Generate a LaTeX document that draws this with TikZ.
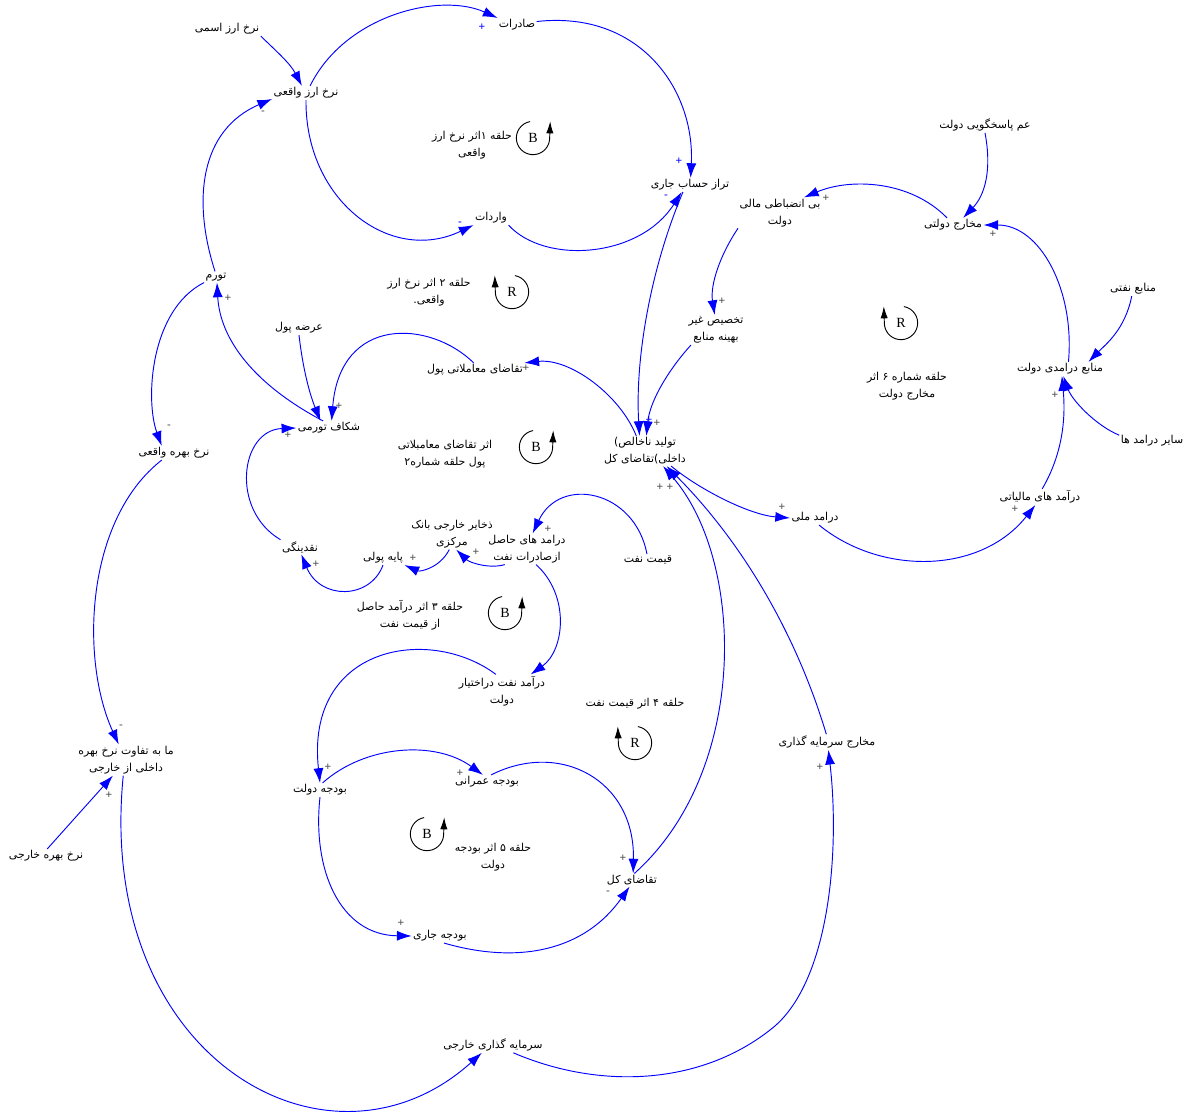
\documentclass[tikz,border=0pt]{standalone}
\usepackage{fontspec}
\usetikzlibrary{arrows.meta,calc}
\newfontfamily\fa[Script=Arabic]{DejaVu Sans}
\newfontfamily\lsans{Liberation Sans}
\newfontfamily\lserif{Liberation Serif}
\TeXXeTstate=1
\newcommand\rtxt[1]{\beginR #1\endR}
\begin{document}
\begin{tikzpicture}[x=0.75pt,y=-0.75pt,
  lbl/.style={font=\fa\fontsize{8.2}{12.75}\selectfont, align=center, inner sep=1pt},
  cl/.style={draw=blue, line width=0.7pt, -{Latex[length=11pt,width=7.5pt]}},
  sg/.style={font=\lsans\fontsize{8.5}{9}\selectfont, inner sep=0},
  lp/.style={font=\lserif\fontsize{10.5}{12}\selectfont, inner sep=0},
  lc/.style={draw=black, line width=0.7pt},
  la/.style={draw=black, line width=0.7pt, -{Latex[length=9pt,width=5.5pt]}}]
\useasboundingbox[fill=white] (0,0) rectangle (1190,1113);

% variables
\node[lbl] (nomFX) at (227,29) {\rtxt{نرخ ارز اسمی}};
\node[lbl] (realFX) at (306,93) {\rtxt{نرخ ارز واقعی}};
\node[lbl] (exports) at (517,25) {\rtxt{صادرات}};
\node[lbl] (imports) at (491,218) {\rtxt{واردات}};
\node[lbl] (CA) at (690,185) {\rtxt{تراز حساب جاری}};
\node[lbl] (infl) at (216,277) {\rtxt{تورم}};
\node[lbl] (msup) at (299,328) {\rtxt{عرضه پول}};
\node[lbl] (tdem) at (475,370) {\rtxt{تقاضای معاملاتی پول}};
\node[lbl] (gap) at (329,428) {\rtxt{شکاف تورمی}};
\node[lbl] (rrate) at (174,453) {\rtxt{نرخ بهره واقعی}};
\node[lbl] (gdp) at (645,451) {\rtxt{تولید ناخالص)}\\\rtxt{داخلی)تقاضای کل}};
\node[lbl] (liq) at (300,547) {\rtxt{نقدینگی}};
\node[lbl] (base) at (383,558) {\rtxt{پایه پولی}};
\node[lbl] (res) at (452,534) {\rtxt{ذخایر خارجی بانک}\\\rtxt{مرکزی}};
\node[lbl] (oilexp) at (527,549) {\rtxt{درامد های حاصل}\\\rtxt{ازصادرات نفت}};
\node[lbl] (oilp) at (648,560) {\rtxt{قیمت نفت}};
\node[lbl] (natinc) at (815,518) {\rtxt{درامد ملی}};
\node[lbl] (tax) at (1040,497) {\rtxt{درآمد های مالیاتی}};
\node[lbl] (grev) at (1060,369) {\rtxt{منابع درامدی دولت}};
\node[lbl] (oilres) at (1133,289) {\rtxt{منابع نفتی}};
\node[lbl] (other) at (1152,441) {\rtxt{سایر درامد ها}};
\node[lbl] (gspend) at (953,225) {\rtxt{مخارج دولتی}};
\node[lbl] (acc) at (985,125) {\rtxt{عم پاسخگویی دولت}};
\node[lbl] (fisc) at (780,213) {\rtxt{بی انضباطی مالی}\\\rtxt{دولت}};
\node[lbl] (misal) at (716,330) {\rtxt{تخصیص غیر}\\\rtxt{بهینه منابع}};
\node[lbl] (oilgov) at (502,691) {\rtxt{درآمد نفت دراختیار}\\\rtxt{دولت}};
\node[lbl] (gbud) at (320,790) {\rtxt{بودجه دولت}};
\node[lbl] (dev) at (487,782) {\rtxt{بودجه عمرانی}};
\node[lbl] (ad) at (632,880) {\rtxt{تقاضای کل}};
\node[lbl] (cur) at (440,936) {\rtxt{بودجه جاری}};
\node[lbl] (inv) at (827,742) {\rtxt{مخارج سرمایه گذاری}};
\node[lbl] (fdi) at (493,1045) {\rtxt{سرمایه گذاری خارجی}};
\node[lbl] (idiff) at (126,760) {\rtxt{ما به تفاوت نرخ بهره}\\\rtxt{داخلی از خارجی}};
\node[lbl] (frate) at (46,856) {\rtxt{نرخ بهره خارجی}};

% loop labels
\node[lbl] (t1) at (472,145) {\rtxt{حلقه ۱اثر نرخ ارز}\\\rtxt{واقعی}};
\node[lbl] (t2) at (429,292) {\rtxt{حلقه ۲ اثر نرخ ارز}\\\rtxt{واقعی.}};
\node[lbl] (t3) at (445,454) {\rtxt{اثر تقاضای معامبلاتی}\\\rtxt{پول حلقه شماره۲}};
\node[lbl] (t4) at (410,615) {\rtxt{حلقه ۳ اثر درآمد حاصل}\\\rtxt{از  قیمت نفت}};
\node[lbl] (t5) at (635,704) {\rtxt{حلقه ۴ اثر قیمت نفت}};
\node[lbl] (t6) at (493,857) {\rtxt{حلقه ۵ اثر بودجه}\\\rtxt{دولت}};
\node[lbl] (t7) at (907,386) {\rtxt{حلقه شماره ۶ اثر}\\\rtxt{مخارج دولت}};

% loop symbols
\node[lp] (b1) at (533,138) {B};
\node[lp] (r2) at (512,292) {R};
\node[lp] (b3) at (536,447) {B};
\node[lp] (b4) at (505,613) {B};
\node[lp] (r5) at (635,743) {R};
\node[lp] (b6) at (427,834) {B};
\node[lp] (r7) at (901,323) {R};
\foreach \n in {b1,b3,b4,b6}{
  \draw[lc] ($(\n)+(100:12.5pt)$) arc[start angle=100,end angle=360,radius=12.5pt];
  \draw[la] ($(\n)+(0:12.5pt)$) -- ++(0.4pt,12.5pt);}
\foreach \n in {r2,r5,r7}{
  \draw[lc] ($(\n)+(80:12.5pt)$) arc[start angle=80,end angle=-180,radius=12.5pt];
  \draw[la] ($(\n)+(180:12.5pt)$) -- ++(-0.4pt,12.5pt);}

% connectors
\draw[cl] (nomFX.south east) .. controls (275,50) and (290,63) .. (realFX.120);
\draw[cl] (realFX.60) .. controls (345,15) and (440,-8) .. (exports.160);
\draw[cl] (realFX.south) .. controls (305,200) and (390,265) .. (imports.south west);
\draw[cl] (exports.10) .. controls (640,10) and (695,90) .. (CA.85);
\draw[cl] (imports.south east) .. controls (545,265) and (640,258) .. (CA.220);
\draw[cl] (infl.100) .. controls (192,200) and (200,130) .. (realFX.190);
\draw[cl] (infl.south west) .. controls (150,310) and (145,400) .. (rrate.150);
\draw[cl] (gap.130) .. controls (255,385) and (220,340) .. (infl.-80);
\draw[cl] (msup.south) .. controls (303,370) and (310,395) .. (gap.140);
\draw[cl] (tdem.100) .. controls (430,320) and (340,315) .. (gap.70);
\draw[cl] (gdp.120) .. controls (620,395) and (570,358) .. (tdem.north east);
\draw[cl] (liq.north west) .. controls (230,510) and (240,430) .. (gap.west);
\draw[cl] (base.south) .. controls (370,600) and (320,600) .. (liq.-80);
\draw[cl] (res.-100) .. controls (440,568) and (420,572) .. (base.south east);
\draw[cl] (oilexp.215) .. controls (490,569) and (470,563) .. (res.-75);
\draw[cl] (oilp.100) .. controls (635,490) and (560,475) .. (oilexp.70);
\draw[cl] (oilexp.-60) .. controls (570,595) and (565,650) .. (oilgov.30);
\draw[cl] (oilgov.110) .. controls (430,625) and (305,645) .. (gbud.north);
\draw[cl] (gbud.70) .. controls (365,745) and (435,740) .. (dev.120);
\draw[cl] (dev.60) .. controls (560,740) and (635,780) .. (ad.80);
\draw[cl] (gbud.south) .. controls (312,870) and (340,935) .. (cur.west);
\draw[cl] (cur.-60) .. controls (520,965) and (585,950) .. (ad.-110);
\draw[cl] (ad.70) .. controls (750,770) and (745,560) .. (gdp.-40);
\draw[cl] (inv.95) .. controls (795,630) and (740,540) .. (gdp.-35);
\draw[cl] (gdp.-30) .. controls (700,490) and (750,515) .. (natinc.west);
\draw[cl] (natinc.-60) .. controls (880,575) and (980,575) .. (tax.-120);
\draw[cl] (tax.75) .. controls (1062,455) and (1066,420) .. (grev.-75);
\draw[cl] (oilres.-100) .. controls (1125,330) and (1105,345) .. (grev.14);
\draw[cl] (other.170) .. controls (1095,425) and (1072,400) .. (grev.-65);
\draw[cl] (grev.40) .. controls (1075,290) and (1040,225) .. (gspend.east);
\draw[cl] (acc.south) .. controls (992,170) and (985,195) .. (gspend.35);
\draw[cl] (gspend.130) .. controls (910,180) and (850,178) .. (fisc.33);
\draw[cl] (fisc.200) .. controls (720,255) and (710,285) .. (misal.95);
\draw[cl] (misal.211) .. controls (670,368) and (650,400) .. (gdp.85);
\draw[cl] (CA.225) .. controls (650,270) and (635,360) .. (gdp.110);
\draw[cl] (rrate.-150) .. controls (85,520) and (80,660) .. (idiff.115);
\draw[cl] (frate.80) -- (idiff.-130);
\draw[cl] (idiff.-100) .. controls (95,1060) and (330,1190) .. (fdi.215);
\draw[cl] (fdi.-21) .. controls (600,1090) and (700,1085) .. (770,1030) .. controls (830,985) and (840,850) .. (inv.-80);

% polarity signs
\foreach \x/\y/\t/\c [count=\i] in {
  482/27/+/blue, 679/161/+/blue, 666/197/-/blue, 460/224/-/blue,
  263/113/-/black!70, 228/298/+/black!70, 169/427/-/black!70, 339/406/+/black!70,
  288/435/+/black!70, 526/368/+/black!70, 316/564/+/black!70, 413/558/+/black!70,
  476/552/+/black!70, 548/529/+/black!70, 649/420/+/blue, 657/423/+/black!70,
  660/487/+/black!70, 670/487/+/black!70, 782/507/+/black!70, 1015/509/+/black!70,
  1055/395/+/black!70, 993/234/+/black!70, 826/198/+/black!70, 722/301/+/black!70,
  121/727/-/black!70, 109/795/+/black!70, 328/767/+/black!70, 460/773/+/black!70,
  623/858/+/black!70, 608/893/-/black!70, 401/923/+/black!70, 820/767/+/black!70}
  \node[sg, text=\c] (s\i) at (\x,\y) {\t};
\end{tikzpicture}
\end{document}
